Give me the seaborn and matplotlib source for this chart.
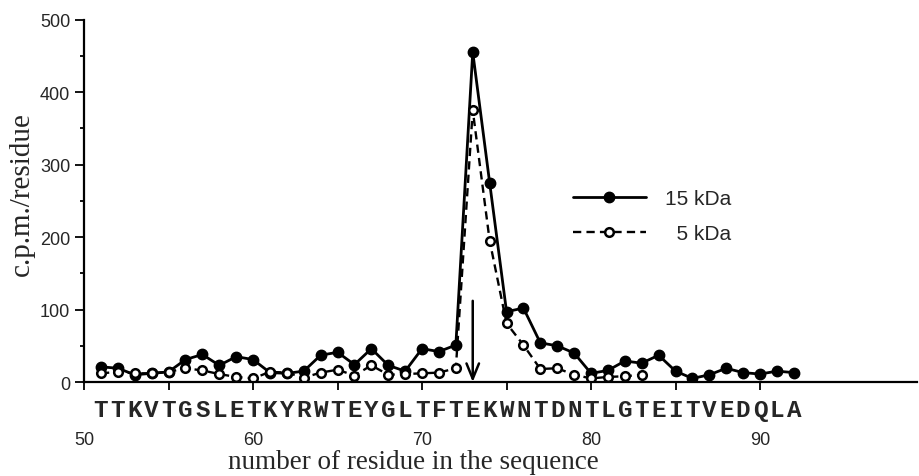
import numpy as np
import pandas as pd
import matplotlib
matplotlib.use("Agg")
import matplotlib.pyplot as plt
import seaborn as sns

# residues 51..92 (15 kDa) and 51..83 (5 kDa)
residues_15 = list(range(51, 93))
cpm_15 = [21, 19, 10, 12, 14, 31, 38, 23, 35, 31,
          13, 12, 15, 37, 41, 24, 46, 23, 15, 46,
          42, 51, 455, 275, 97, 102, 54, 50, 40, 12,
          16, 29, 26, 37, 15, 5, 10, 19, 13, 11,
          15, 13]
residues_5 = list(range(51, 84))
cpm_5 = [12, 14, 12, 12, 14, 19, 16, 11, 7, 5,
         14, 13, 6, 13, 17, 9, 23, 10, 11, 12,
         13, 19, 375, 195, 81, 51, 18, 19, 10, 5,
         7, 8, 10]
sequence = "TTKVTGSLETKYRWTEYGLTFTEKWNTDNTLGTEITVEDQLA"
seq_start = 51
arrow_residue = 73
arrow_top = 112
x_ticks = list(range(50, 95, 5))
x_labels = ["50", "", "60", "", "70", "", "80", "", "90"]
y_ticks = [0, 100, 200, 300, 400, 500]

df15 = pd.DataFrame({"residue": residues_15, "cpm": cpm_15})
df5 = pd.DataFrame({"residue": residues_5, "cpm": cpm_5})

sns.set_style("ticks")
plt.rcParams["font.family"] = ["Liberation Sans", "DejaVu Sans"]

fig = plt.figure(figsize=(9.19, 4.77), dpi=100)
ax = fig.add_axes([0.0915, 0.197, 0.9065, 0.760])

sns.lineplot(data=df15, x="residue", y="cpm", ax=ax, color="black",
             linewidth=2.0, marker="o", markersize=7.5,
             markerfacecolor="black", markeredgecolor="black",
             markeredgewidth=1, label="15 kDa")
sns.lineplot(data=df5, x="residue", y="cpm", ax=ax, color="black",
             linewidth=1.7, linestyle=(0, (3.5, 2.2)), marker="o",
             markersize=6.2, markerfacecolor="white",
             markeredgecolor="black", markeredgewidth=1.8,
             label="  5 kDa")

# cleavage arrow
ax.annotate("", xy=(arrow_residue, 0), xytext=(arrow_residue, arrow_top),
            arrowprops=dict(arrowstyle="->,head_length=1.1,head_width=0.45",
                            color="black", lw=1.8, shrinkA=0, shrinkB=0))

# sequence under the axis
for i, aa in enumerate(sequence):
    ax.text(seq_start + i, -0.075, aa, transform=ax.get_xaxis_transform(),
            ha="center", va="center", fontsize=17.5, fontweight="bold",
            family="Liberation Mono")

ax.set_xlim(50, 99.3)
ax.set_ylim(0, 500)
ax.set_xticks(x_ticks)
ax.set_xticklabels(x_labels)
ax.set_yticks(y_ticks)
ax.set_yticks(range(50, 500, 100), minor=True)
ax.tick_params(axis="x", length=6, width=1.3, pad=29, labelsize=13,
               direction="out", color="black")
ax.tick_params(axis="y", which="major", length=6.5, width=1.3, pad=3.5,
               labelsize=13, color="black")
ax.tick_params(axis="y", which="minor", length=3, width=1.3, color="black")

for s in ["top", "right"]:
    ax.spines[s].set_visible(False)
for s in ["left", "bottom"]:
    ax.spines[s].set_linewidth(1.6)
    ax.spines[s].set_color("black")

ax.set_xlabel("number of residue in the sequence", family="Liberation Serif",
              fontsize=19.5)
ax.set_ylabel("c.p.m./residue", family="Liberation Serif", fontsize=21)
ax.xaxis.set_label_coords(0.395, -0.185)
ax.yaxis.set_label_coords(-0.059, 0.52)

ax.legend(loc="center left", bbox_to_anchor=(0.6235, 0.545),
          bbox_transform=fig.transFigure, frameon=False, fontsize=15,
          handlelength=3.5, handletextpad=0.9, labelspacing=0.75,
          borderpad=0, borderaxespad=0, numpoints=1)

fig.savefig("out.png", dpi=100, facecolor="white")
